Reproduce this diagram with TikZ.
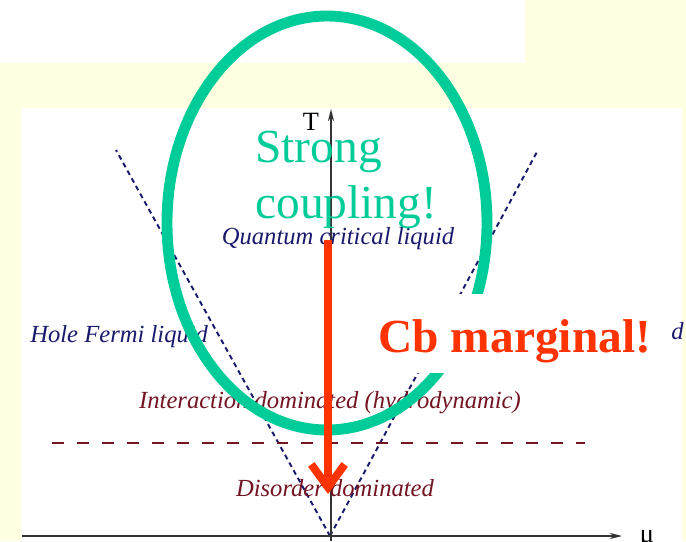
\documentclass[tikz,border=0pt]{standalone}
\usepackage{fontspec}
\setmainfont{Liberation Serif}
\usetikzlibrary{arrows.meta}
\definecolor{bgyellow}{RGB}{255,255,225}
\definecolor{ringgreen}{RGB}{0,204,153}
\definecolor{cbred}{RGB}{255,51,0}
\definecolor{navytext}{RGB}{25,25,110}
\definecolor{winetext}{RGB}{115,20,35}

\begin{document}
\begin{tikzpicture}[x=0.02cm, y=-0.02cm, >=Stealth,
  phase/.style={font=\fontsize{14}{16}\selectfont\itshape, inner sep=0pt},
  crossover/.style={navytext, line width=1.1pt, dash pattern=on 2.8pt off 2.2pt},
  axis/.style={black!80, line width=0.8pt, -{Stealth[length=7pt,width=3.5pt]}},
  ring/.style={ringgreen, line width=6.2pt},
  remark/.style={font=\fontsize{27}{32}\selectfont, inner sep=0pt}]
\useasboundingbox (0,0) rectangle (686,541);

% background and slide panels
\fill[bgyellow] (0,0) rectangle (686,541);
\fill[white] (0,0) rectangle (525,63);
\fill[white] (21,108) rectangle (682,541);

% crossover lines
\coordinate (apex) at (330,536);
\coordinate (vleft) at (116,150);
\coordinate (vright) at (538,150);
\draw[crossover] (apex) -- (vleft);
\draw[crossover] (apex) -- (vright);

% interaction / disorder boundary
\coordinate (bleft) at (52,443);
\coordinate (bright) at (585,443);
\draw[winetext, line width=0.9pt, dash pattern=on 6.8pt off 7.4pt] (bleft) -- (bright);

% axes
\coordinate (ubase) at (22,536);
\coordinate (uend) at (622,536);
\coordinate (tbase) at (331,541);
\coordinate (tend) at (331,109);
\draw[axis] (ubase) -- (uend);
\draw[axis] (tbase) -- (tend);
\node[font=\fontsize{15}{17}\selectfont, inner sep=0pt] (tlabel) at (311,122) {T};
\node[font=\fontsize{15}{17}\selectfont, inner sep=0pt, anchor=north] (mulabel) at (647,530) {μ};

% phases
\node[phase, navytext] (qcl) at (338,239) {Quantum critical liquid};
\node[phase, navytext, anchor=west] (hfl) at (30,337) {Hole Fermi liquid};
\node[phase, navytext, anchor=west] (efl) at (671,331) {d};
\node[phase, winetext] (intdom) at (330,403) {Interaction dominated (hydrodynamic)};
\node[phase, winetext] (disdom) at (335,488) {Disorder dominated};

% strong coupling ring
\draw[ring] (327,223) ellipse [x radius=160, y radius=207];
\node[remark, ringgreen, align=left, anchor=north west] (strong) at (255,131) {Strong\\coupling!};

% flow towards the disorder regime
\coordinate (flowtop) at (328,240);
\coordinate (flowtip) at (328,494);
\draw[cbred, line width=4.5pt, -{Straight Barb[length=13pt,width=19pt]}] (flowtop) -- (flowtip);

% Coulomb remark
\fill[white] (372,294) rectangle (668,373);
\node[remark, cbred, font=\fontsize{27}{32}\selectfont\bfseries, anchor=base west] (cbmarg) at (378,352) {Cb marginal!};
\end{tikzpicture}
\end{document}
